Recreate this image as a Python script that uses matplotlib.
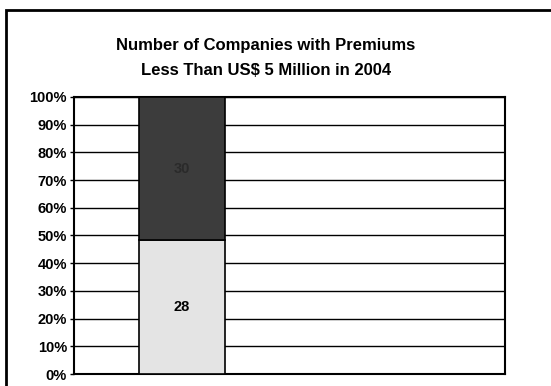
import matplotlib.pyplot as plt
from matplotlib.patches import Rectangle
from matplotlib.ticker import PercentFormatter

# Data: one stacked column, shares of companies
categories = ['']
lower_counts = [28]
upper_counts = [30]
title = 'Number of Companies with Premiums\nLess Than US$ 5 Million in 2004'

plt.rcParams['font.family'] = ['Liberation Sans', 'DejaVu Sans']

totals = [a + b for a, b in zip(lower_counts, upper_counts)]
lower_pct = [a / t * 100 for a, t in zip(lower_counts, totals)]
upper_pct = [b / t * 100 for b, t in zip(upper_counts, totals)]

fig = plt.figure(figsize=(5.51, 3.86), dpi=100)
ax = fig.add_axes([0.134, 0.031, 0.783, 0.718])

x = list(range(len(categories)))
b1 = ax.bar(x, lower_pct, width=0.6, color='#e4e4e4', edgecolor='black', linewidth=1.2, zorder=3)
b2 = ax.bar(x, upper_pct, bottom=lower_pct, width=0.6, color='#3c3c3c',
            edgecolor='black', linewidth=1.2, zorder=3)

for rect, val in zip(b1, lower_counts):
    ax.text(rect.get_x() + rect.get_width() / 2, rect.get_height() / 2, str(val),
            ha='center', va='center', fontsize=10.5, fontweight='bold', color='black', zorder=4)
for rect, bot, val in zip(b2, lower_pct, upper_counts):
    ax.text(rect.get_x() + rect.get_width() / 2, bot + rect.get_height() / 2, str(val),
            ha='center', va='center', fontsize=10.5, fontweight='bold', color='#2a2a2a', zorder=4)

ax.set_xlim(-0.75, 2.25)
ax.set_ylim(0, 100)
ax.set_yticks(range(0, 101, 10))
ax.yaxis.set_major_formatter(PercentFormatter(decimals=0))
ax.set_xticks([])
ax.grid(axis='y', color='black', linewidth=1.0, zorder=1)
ax.tick_params(axis='y', length=3, width=1, pad=2)
for lbl in ax.get_yticklabels():
    lbl.set_fontweight('bold')
    lbl.set_fontsize(10.5)
for s in ax.spines.values():
    s.set_linewidth(1.5)
    s.set_color('black')

fig.text(0.482, 0.85, title, ha='center', va='center', fontsize=12,
         fontweight='bold', linespacing=1.85)

# outer chart frame
fig.patches.append(Rectangle((6 / 551, -0.1), 1.2, 1.1 - 10 / 386, transform=fig.transFigure,
                             fill=False, edgecolor='black', linewidth=2))

fig.savefig('out.png', dpi=100)
